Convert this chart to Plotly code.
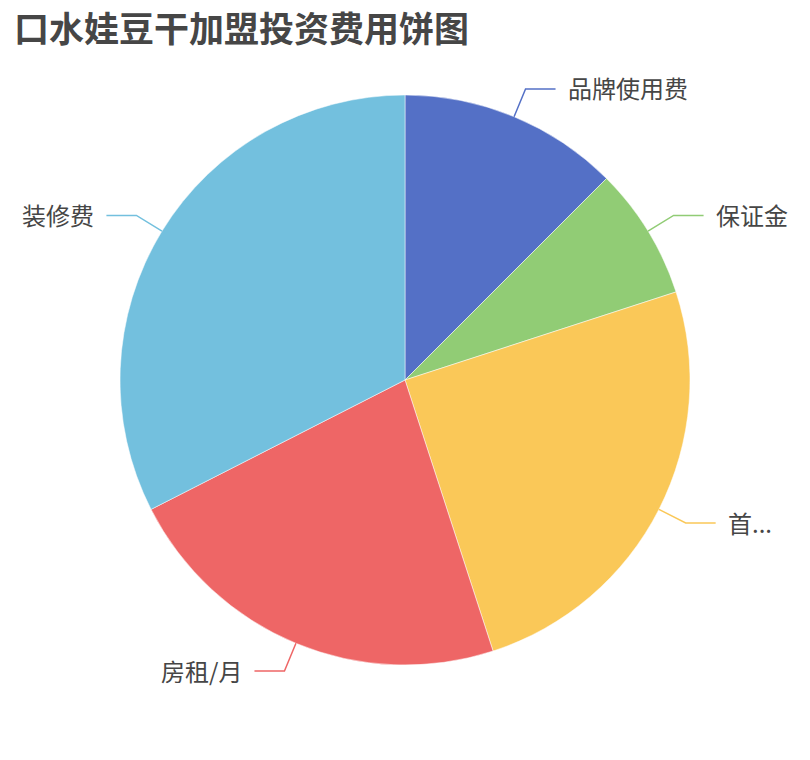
import math
from plotly import graph_objects as go

# data
names = ["品牌使用费", "保证金", "首...", "房租/月", "装修费"]
values = [5000, 3000, 10000, 9000, 13000]
colors = ["#5470c6", "#91cc75", "#fac858", "#ee6666", "#73c0de"]

W, H = 810, 760
cx, cy, r = 405, 380, 285  # pie centre / radius in px


def px_x(x):
    return x / W


def px_y(y):
    return 1 - y / H


fig = go.Figure()
fig.add_trace(go.Pie(
    labels=names, values=values, sort=False, direction="clockwise", rotation=0,
    marker=dict(colors=colors, line=dict(color="white", width=0.5)),
    textinfo="none", hoverinfo="label+value+percent", showlegend=False,
    domain=dict(x=[px_x(cx - r), px_x(cx + r)], y=[px_y(cy + r), px_y(cy - r)]),
))

# leader lines + labels, angles worked out from the values
total = sum(values)
start = 0
for name, v, c in zip(names, values, colors):
    mid = (start + v / 2) / total * 2 * math.pi
    start += v
    sx, sy = cx + r * math.sin(mid), cy - r * math.cos(mid)
    ex, ey = cx + (r + 30) * math.sin(mid), cy - (r + 30) * math.cos(mid)
    side = 1 if math.sin(mid) >= 0 else -1
    hx = ex + side * 30
    fig.add_shape(type="path", xref="paper", yref="paper",
                  path=f"M {px_x(sx)} {px_y(sy)} L {px_x(ex)} {px_y(ey)} L {px_x(hx)} {px_y(ey)}",
                  line=dict(color=c, width=1.5))
    fig.add_annotation(text=name, xref="paper", yref="paper",
                       x=px_x(hx + side * 10), y=px_y(ey - 1), showarrow=False,
                       xanchor="left" if side > 0 else "right", yanchor="middle",
                       font=dict(size=24, color="#464646"))

# title as an annotation so it sits right at the top
fig.add_annotation(text="<b>口水娃豆干加盟投资费用饼图</b>", xref="paper", yref="paper",
                   x=px_x(12), y=px_y(27), xanchor="left", yanchor="middle",
                   showarrow=False, font=dict(size=35, color="#464646"))

fig.update_layout(
    width=W, height=H,
    margin=dict(l=0, r=0, t=0, b=0),
    paper_bgcolor="white",
    font=dict(family="Noto Sans CJK SC"),
)

# drop the browser's default 8px body margin so the figure fills the window
fig.write_html("out.html", config={"displayModeBar": False},
               post_script="document.body.style.margin='0';")
